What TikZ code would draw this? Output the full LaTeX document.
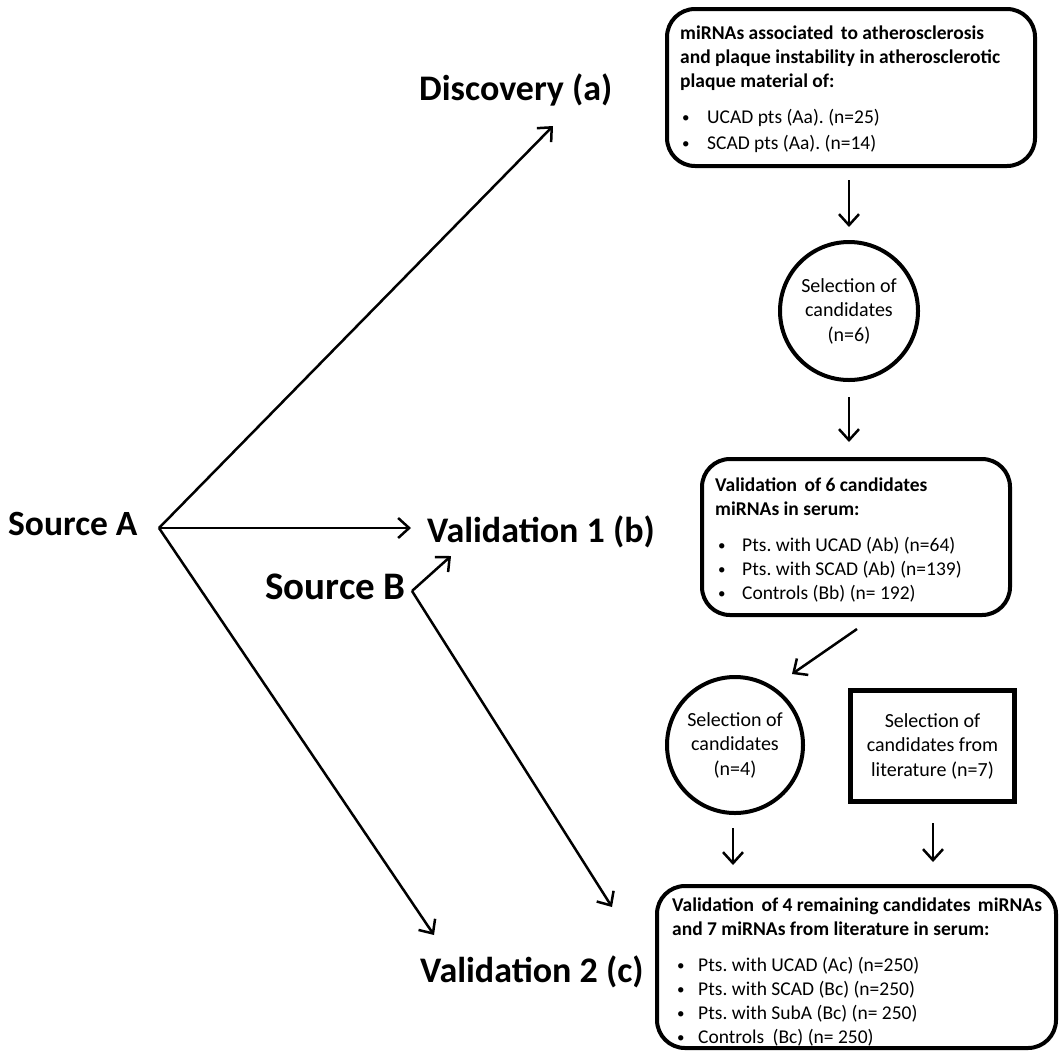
\documentclass[tikz,border=0pt]{standalone}
\usepackage{fontspec}
\setmainfont{Carlito}
\usetikzlibrary{arrows.meta}
\frenchspacing
\newcommand\bulitem[2]{\hspace*{#1}\makebox[#2][l]{\raisebox{1.5pt}{\fontsize{15}{15}\selectfont\textbullet}}}
\begin{document}
\begin{tikzpicture}[x=1pt,y=-1pt,
  conn/.style={line width=2.5pt, -{Straight Barb[length=11pt,width=20pt]}},
  biglabel/.style={font=\fontsize{36}{42}\selectfont\bfseries, inner sep=0pt},
  roundbox/.style={draw, line width=4pt, rounded corners=28pt, inner sep=0pt},
  boxtext/.style={font=\fontsize{19.5}{24}\selectfont, inner sep=0pt, align=left, anchor=north west},
  circ/.style={draw, circle, line width=4pt, inner sep=0pt, align=center, font=\fontsize{20}{24.5}\selectfont},
  sqbox/.style={draw, line width=5pt, inner sep=0pt, align=center, font=\fontsize{20}{24.5}\selectfont}
]
\useasboundingbox (0,0) rectangle (1062,1053);

% big labels
\node[biglabel, font=\fontsize{35.5}{42}\selectfont\bfseries, anchor=base west] (srcA) at (8,535) {Source A};
\node[biglabel, anchor=base west] (disc) at (419,100) {Discovery (a)};
\node[biglabel, anchor=base west] (val1) at (427,542) {Validation 1 (b)};
\node[biglabel, font=\fontsize{39}{44}\selectfont\bfseries, anchor=base east] (srcB) at (406,599) {Source B};
\node[biglabel, anchor=base west] (val2) at (420,982) {Validation 2 (c)};

% vertices and arrow tips
\coordinate (av) at (159,528);
\coordinate (bv) at (412,591);
\coordinate (tipDisc) at (553,126);
\coordinate (tipVal1) at (411,528);
\coordinate (tipVal2) at (434,935);
\coordinate (tipBVal1) at (451,556);
\coordinate (tipBVal2) at (612,907);

% box 1
\node[roundbox, minimum width=368pt, minimum height=157pt] (b1) at (851,87.5) {};
\node[boxtext] (t1) at (680,26) {\bfseries miRNAs associated\hspace{3pt} to atherosclerosis\\
\bfseries and plaque instability in atherosclerotic\\
\bfseries plaque material of:\\[12pt]
\bulitem{2pt}{25pt}UCAD pts (Aa). (n=25)\\[2pt]
\bulitem{2pt}{25pt}SCAD pts (Aa). (n=14)};

% circle 1
\node[circ, minimum size=138pt] (c1) at (849,311) {Selection of\\candidates\\(n=6)};

% box 2
\node[roundbox, minimum width=308pt, minimum height=156pt] (b2) at (856,537) {};
\node[boxtext] (t2) at (715,478) {\bfseries Validation\hspace{3pt} of 6 candidates\\
\bfseries miRNAs in serum:\\[12pt]
\bulitem{3pt}{24pt}Pts. with UCAD (Ab) (n=64)\\
\bulitem{3pt}{24pt}Pts. with SCAD (Ab) (n=139)\\
\bulitem{3pt}{24pt}Controls (Bb) (n= 192)};

% circle 2 and literature box
\node[circ, minimum size=136pt] (c2) at (735,745) {Selection of\\candidates\\(n=4)};
\node[sqbox, minimum width=164pt, minimum height=111pt] (r3) at (932.5,746) {Selection of\\candidates from\\literature (n=7)};

% box 4
\node[roundbox, minimum width=399pt, minimum height=162pt] (b4) at (856.5,967) {};
\node[boxtext] (t4) at (672,898) {\bfseries Validation\hspace{3pt} of 4 remaining candidates\hspace{3pt} miRNAs\\
\bfseries and 7 miRNAs from literature in serum:\\[12pt]
\bulitem{5pt}{21pt}Pts. with UCAD (Ac) (n=250)\\
\bulitem{5pt}{21pt}Pts. with SCAD (Bc) (n=250)\\
\bulitem{5pt}{21pt}Pts. with SubA (Bc) (n= 250)\\
\bulitem{5pt}{21pt}Controls\hspace{4pt} (Bc) (n= 250)};

% connectors from sources
\draw[conn] (av) -- (tipDisc);
\draw[conn] (av) -- (tipVal1);
\draw[conn] (av) -- (tipVal2);
\draw[conn] (bv) -- (tipBVal1);
\draw[conn] (bv) -- (tipBVal2);

% flow arrows
\coordinate (s1) at (849,180);
\coordinate (e1) at (849,227);
\draw[conn] (s1) -- (e1);
\coordinate (s2) at (849,397);
\coordinate (e2) at (849,442);
\draw[conn] (s2) -- (e2);
\coordinate (s3) at (857,629);
\coordinate (e3) at (792,674);
\draw[conn] (s3) -- (e3);
\coordinate (s4) at (733,828);
\coordinate (e4) at (733,865);
\draw[conn] (s4) -- (e4);
\coordinate (s5) at (933,823);
\coordinate (e5) at (933,862);
\draw[conn] (s5) -- (e5);
\end{tikzpicture}
\end{document}
